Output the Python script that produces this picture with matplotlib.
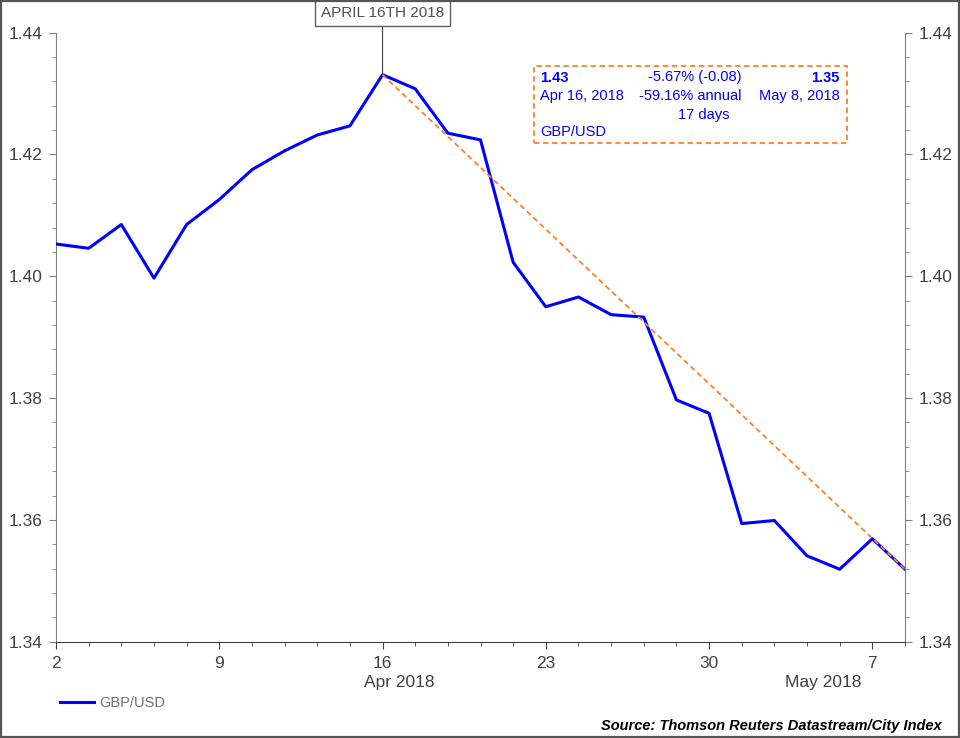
import matplotlib
matplotlib.use("Agg")
import matplotlib.pyplot as plt
from matplotlib.patches import Rectangle
from matplotlib.ticker import MultipleLocator, FormatStrFormatter, FixedLocator
import pandas as pd

plt.rcParams["font.family"] = ["Liberation Sans", "DejaVu Sans"]

# business days Apr 2 - May 8 2018
dates = pd.bdate_range("2018-04-02", "2018-05-08")
gbpusd = [1.4053, 1.4046, 1.4085, 1.3997, 1.4085, 1.4126, 1.4175, 1.4206, 1.4232, 1.4247,
          1.4331, 1.4308, 1.4235, 1.4224, 1.4023, 1.3950, 1.3966, 1.3937, 1.3933, 1.3797,
          1.3775, 1.3594, 1.3599, 1.3541, 1.3519, 1.3569, 1.3519]
trend_start = 10   # Apr 16
trend_end = 26     # May 8
month_labels = ["Apr 2018", "May 2018"]
month_label_pos = [10.5, 23.5]
peak_label = "APRIL 16TH 2018"
info_left = ["1.43", "Apr 16, 2018"]
info_mid = ["-5.67% (-0.08)", "-59.16% annual", "17 days"]
info_right = ["1.35", "May 8, 2018"]
series_name = "GBP/USD"
source = "Source: Thomson Reuters Datastream/City Index"

W, H = 960, 738


def fx(px):
    return px / W


def fy(py):
    return 1 - py / H


fig = plt.figure(figsize=(9.6, 7.38), dpi=100)
ax = fig.add_axes([fx(56), fy(641.7), fx(905) - fx(56), fy(32.7) - fy(641.7)])

x = list(range(len(dates)))
ax.plot(x, gbpusd, color="#0000FF", lw=2.2, zorder=3, label=series_name)
ax.plot([trend_start, trend_end], [gbpusd[trend_start], gbpusd[trend_end]],
        color="#FF7F27", lw=1.3, ls=(0, (3, 2)), zorder=4)

ax.set_xlim(0, len(dates) - 1)
ax.set_ylim(1.34, 1.44)

# x ticks: every business day minor, Mondays major
mondays = [i for i, d in enumerate(dates) if d.weekday() == 0]
ax.xaxis.set_major_locator(FixedLocator(mondays))
ax.set_xticklabels([str(dates[i].day) for i in mondays])
ax.xaxis.set_minor_locator(FixedLocator(x))

ax.yaxis.set_major_locator(MultipleLocator(0.02))
ax.yaxis.set_minor_locator(MultipleLocator(0.004))
ax.yaxis.set_major_formatter(FormatStrFormatter("%.2f"))

ax.spines["top"].set_visible(False)
for s in ["left", "right"]:
    ax.spines[s].set_color("#808080")
ax.spines["bottom"].set_color("#404040")

ax.tick_params(axis="y", which="both", direction="out", left=True, right=True,
               labelleft=True, labelright=True, colors="#808080", labelcolor="#404040")
ax.tick_params(axis="y", which="major", length=5, pad=5, labelsize=12.5)
ax.tick_params(axis="y", which="minor", length=3)
ax.tick_params(axis="x", which="both", direction="out", colors="#404040", labelcolor="#404040")
ax.tick_params(axis="x", which="major", length=5, pad=5, labelsize=12.5)
ax.tick_params(axis="x", which="minor", length=3)

for pos, lab in zip(month_label_pos, month_labels):
    ax.text(pos, -0.0673, lab, transform=ax.get_xaxis_transform(),
            ha="center", va="center", fontsize=12.5, color="#404040")

ax.annotate(peak_label, xy=(trend_start, gbpusd[trend_start]), xycoords="data",
            xytext=(0, 44.3), textcoords="offset points", ha="center", va="center",
            fontsize=11, color="#505050", annotation_clip=False,
            bbox=dict(boxstyle="square,pad=0.38", fc="white", ec="#606060", lw=1),
            arrowprops=dict(arrowstyle="-", color="#404040", lw=0.8, shrinkA=0, shrinkB=0))

# info box
fig.add_artist(Rectangle((fx(534.3), fy(143.3)), fx(847.3) - fx(534.3), fy(66) - fy(143.3),
                         transform=fig.transFigure, fill=False, ec="#FF7F27", lw=1.3,
                         ls=(0, (3, 2))))
blue = "#0000FF"
rows_y = [77.5, 96, 114.5, 132.5]
fig.text(fx(540), fy(rows_y[0]), info_left[0], color=blue, fontsize=10.5,
         fontweight="bold", ha="left", va="center")
fig.text(fx(540), fy(rows_y[1]), info_left[1], color=blue, fontsize=10.5, ha="left", va="center")
fig.text(fx(540), fy(rows_y[3]), series_name, color=blue, fontsize=10.5, ha="left", va="center")
fig.text(fx(694.5), fy(rows_y[0]), info_mid[0], color=blue, fontsize=10.5, ha="center", va="center")
fig.text(fx(690), fy(rows_y[1]), info_mid[1], color=blue, fontsize=10.5, ha="center", va="center")
fig.text(fx(704), fy(rows_y[2]), info_mid[2], color=blue, fontsize=10.5, ha="center", va="center")
fig.text(fx(839.3), fy(rows_y[0]), info_right[0], color=blue, fontsize=10.5,
         fontweight="bold", ha="right", va="center")
fig.text(fx(839.3), fy(rows_y[1]), info_right[1], color=blue, fontsize=10.5, ha="right", va="center")

ax.legend(loc="center left", bbox_to_anchor=(fx(60), fy(703)), bbox_transform=fig.transFigure,
          frameon=False, fontsize=10.5, labelcolor="#707070", handlelength=2.3,
          handletextpad=0.4, borderpad=0, borderaxespad=0)

fig.text(fx(942), fy(726), source, ha="right", va="center", fontsize=10.5,
         fontweight="bold", fontstyle="italic", color="black")

# outer frame
fig.add_artist(Rectangle((fx(1), fy(737)), fx(958), fy(1) - fy(737), transform=fig.transFigure,
                         fill=False, ec="#555555", lw=1.6))

fig.savefig("out.png", dpi=100)
